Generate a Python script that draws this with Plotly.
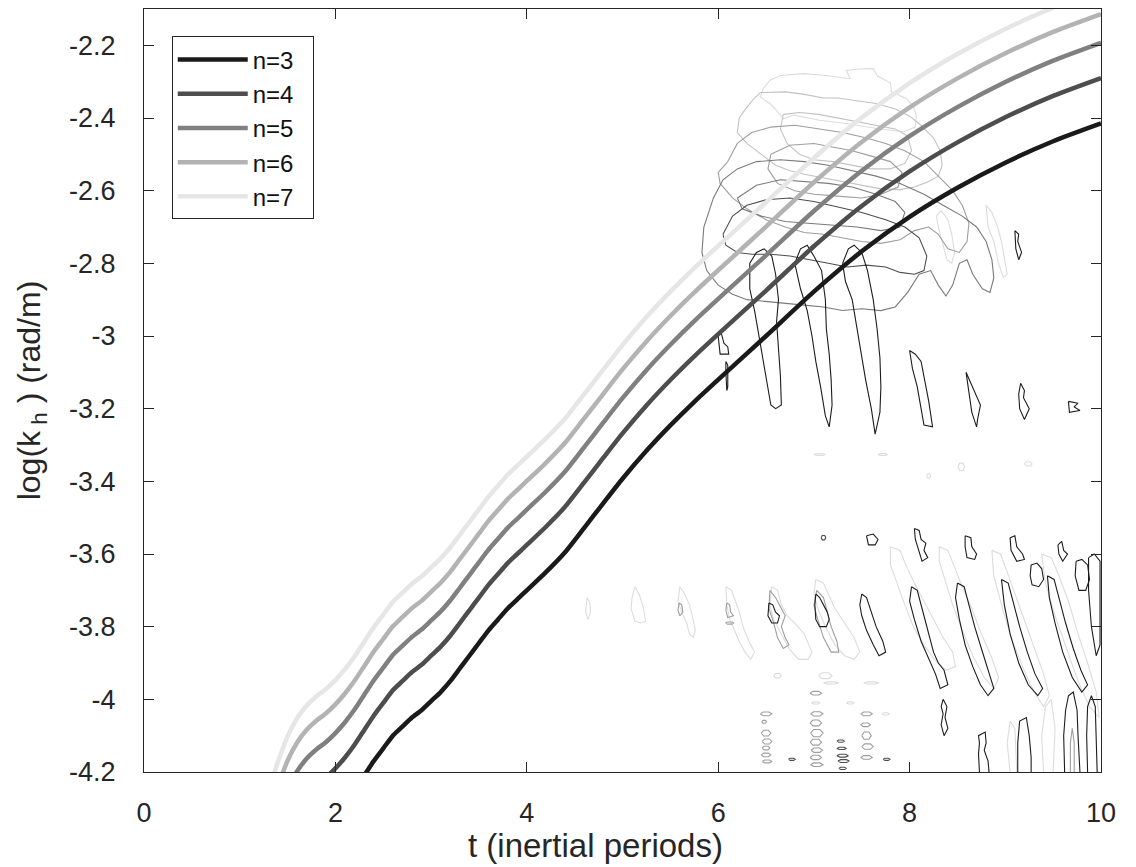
import plotly.graph_objects as go

# ---------------------------------------------------------------------------
# Ridge curves log10(k_h) for several modes n, versus time in inertial periods
# ---------------------------------------------------------------------------
T_GRID = [1.3, 1.4, 1.5, 1.6, 1.7, 1.8, 1.9, 2.0, 2.1, 2.2, 2.3, 2.4, 2.5, 2.6,
          2.7, 2.8, 2.9, 3.0, 3.1, 3.2, 3.3, 3.4, 3.5, 3.6, 3.7, 3.8, 3.9, 4.0,
          4.2, 4.4, 4.6, 4.8, 5.0, 5.25, 5.5, 5.75, 6.0, 6.5, 7.0, 7.5, 8.0,
          8.5, 9.0, 9.5, 10.0]

LOGK_N3 = [-4.620, -4.540, -4.470, -4.420, -4.385, -4.360, -4.340, -4.315, -4.285,
           -4.250, -4.210, -4.170, -4.135, -4.100, -4.075, -4.050, -4.030, -4.005,
           -3.980, -3.950, -3.915, -3.880, -3.845, -3.810, -3.780, -3.750, -3.725,
           -3.700, -3.650, -3.595, -3.528, -3.460, -3.393, -3.316, -3.246, -3.181,
           -3.120, -3.000, -2.878, -2.767, -2.672, -2.592, -2.523, -2.464, -2.415]
LOGK_N4 = [-4.495, -4.415, -4.345, -4.295, -4.260, -4.235, -4.215, -4.190, -4.160,
           -4.125, -4.085, -4.045, -4.010, -3.975, -3.950, -3.925, -3.905, -3.880,
           -3.855, -3.825, -3.790, -3.755, -3.720, -3.685, -3.655, -3.625, -3.600,
           -3.575, -3.525, -3.470, -3.403, -3.335, -3.268, -3.191, -3.121, -3.056,
           -2.995, -2.875, -2.753, -2.642, -2.547, -2.467, -2.398, -2.339, -2.290]
LOGK_N5 = [-4.398, -4.318, -4.248, -4.198, -4.163, -4.138, -4.118, -4.093, -4.063,
           -4.028, -3.988, -3.948, -3.913, -3.878, -3.853, -3.828, -3.808, -3.783,
           -3.758, -3.728, -3.693, -3.658, -3.623, -3.588, -3.558, -3.528, -3.503,
           -3.478, -3.428, -3.373, -3.306, -3.238, -3.171, -3.094, -3.024, -2.959,
           -2.898, -2.778, -2.656, -2.545, -2.450, -2.370, -2.301, -2.242, -2.193]
LOGK_N6 = [-4.319, -4.239, -4.169, -4.119, -4.084, -4.059, -4.039, -4.014, -3.984,
           -3.949, -3.909, -3.869, -3.834, -3.799, -3.774, -3.749, -3.729, -3.704,
           -3.679, -3.649, -3.614, -3.579, -3.544, -3.509, -3.479, -3.449, -3.424,
           -3.399, -3.349, -3.294, -3.227, -3.159, -3.092, -3.015, -2.945, -2.880,
           -2.819, -2.699, -2.577, -2.466, -2.371, -2.291, -2.222, -2.163, -2.114]
LOGK_N7 = [-4.252, -4.172, -4.102, -4.052, -4.017, -3.992, -3.972, -3.947, -3.917,
           -3.882, -3.842, -3.802, -3.767, -3.732, -3.707, -3.682, -3.662, -3.637,
           -3.612, -3.582, -3.547, -3.512, -3.477, -3.442, -3.412, -3.382, -3.357,
           -3.332, -3.282, -3.227, -3.160, -3.092, -3.025, -2.948, -2.878, -2.813,
           -2.752, -2.632, -2.510, -2.399, -2.304, -2.224, -2.155, -2.096, -2.047]

MODE_NAMES = ["n=3", "n=4", "n=5", "n=6", "n=7"]
MODE_COLORS = ["#1a1a1a", "#4d4d4d", "#808080", "#b3b3b3", "#e6e6e6"]

Y_TICKS = [-4.2, -4.0, -3.8, -3.6, -3.4, -3.2, -3.0, -2.8, -2.6, -2.4, -2.2]
Y_TICK_TEXT = ["-4.2", "-4", "-3.8", "-3.6", "-3.4", "-3.2", "-3", "-2.8",
               "-2.6", "-2.4", "-2.2"]
X_TICKS = [0, 2, 4, 6, 8, 10]

# ---------------------------------------------------------------------------
# Energy contours (t, log10 k_h), one list of closed outlines per contour level
# ---------------------------------------------------------------------------
SHADE_1 = "#dcdcdc"
SHADE_2 = "#c2c2c2"
SHADE_3 = "#9e9e9e"
SHADE_4 = "#7a7a7a"
SHADE_5 = "#4e4e4e"
SHADE_6 = "#1c1c1c"

LEVEL1_LOOPS = [
    [(6.47, -2.319), (6.54, -2.296), (6.65, -2.283), (6.89, -2.278), (7.13, -2.283),
     (7.38, -2.292), (7.34, -2.269), (7.48, -2.265), (7.62, -2.264), (7.66, -2.283),
     (7.80, -2.304), (7.81, -2.328), (7.97, -2.347), (8.04, -2.370), (8.07, -2.392),
     (8.06, -2.425), (7.94, -2.438), (7.66, -2.429), (7.34, -2.415), (7.06, -2.406),
     (6.79, -2.392), (6.68, -2.402), (6.61, -2.379), (6.54, -2.360), (6.44, -2.342),
     (6.47, -2.319)],
    [(8.28, -2.67), (8.33, -2.655), (8.40, -2.68), (8.44, -2.72), (8.47, -2.77),
     (8.44, -2.80), (8.39, -2.79), (8.34, -2.74), (8.30, -2.70), (8.28, -2.67)],
    [(8.80, -2.64), (8.86, -2.66), (8.92, -2.70), (8.96, -2.74), (9.00, -2.80),
     (9.02, -2.83), (8.98, -2.84), (8.93, -2.80), (8.88, -2.74), (8.82, -2.70),
     (8.80, -2.64)],
    [(4.63, -3.72), (4.66, -3.735), (4.665, -3.76), (4.64, -3.78), (4.615, -3.76),
     (4.62, -3.735), (4.63, -3.72)],
    [(5.13, -3.69), (5.18, -3.715), (5.22, -3.75), (5.24, -3.785), (5.19, -3.79),
     (5.13, -3.785), (5.09, -3.75), (5.10, -3.72), (5.13, -3.69)],
    [(5.60, -3.69), (5.65, -3.71), (5.70, -3.74), (5.73, -3.77), (5.76, -3.81),
     (5.74, -3.83), (5.70, -3.82), (5.67, -3.79), (5.62, -3.76), (5.58, -3.73),
     (5.60, -3.69)],
    [(6.08, -3.69), (6.14, -3.70), (6.18, -3.73), (6.22, -3.76), (6.26, -3.80),
     (6.32, -3.84), (6.38, -3.87), (6.34, -3.89), (6.28, -3.87), (6.22, -3.84),
     (6.17, -3.81), (6.12, -3.78), (6.09, -3.74), (6.08, -3.69)],
    [(6.56, -3.69), (6.62, -3.70), (6.66, -3.74), (6.72, -3.77), (6.80, -3.79),
     (6.90, -3.82), (6.98, -3.87), (6.94, -3.89), (6.84, -3.89), (6.74, -3.86),
     (6.66, -3.82), (6.58, -3.78), (6.54, -3.74), (6.56, -3.69)],
    [(7.02, -3.67), (7.10, -3.68), (7.15, -3.71), (7.22, -3.75), (7.32, -3.79),
     (7.42, -3.83), (7.48, -3.87), (7.42, -3.89), (7.32, -3.88), (7.22, -3.85),
     (7.12, -3.80), (7.04, -3.75), (7.00, -3.71), (7.02, -3.67)],
    [(7.80, -3.58), (7.90, -3.59), (7.96, -3.63), (8.05, -3.68), (8.15, -3.73),
     (8.25, -3.78), (8.35, -3.83), (8.45, -3.87), (8.48, -3.91), (8.38, -3.92),
     (8.26, -3.89), (8.15, -3.85), (8.04, -3.80), (7.95, -3.74), (7.87, -3.68),
     (7.80, -3.63), (7.80, -3.58)],
    [(8.31, -3.58), (8.40, -3.59), (8.46, -3.63), (8.55, -3.69), (8.65, -3.75),
     (8.75, -3.82), (8.85, -3.88), (8.93, -3.94), (8.88, -3.97), (8.78, -3.94),
     (8.66, -3.88), (8.55, -3.81), (8.45, -3.74), (8.37, -3.67), (8.31, -3.62),
     (8.31, -3.58)],
    [(8.86, -3.59), (8.95, -3.60), (9.02, -3.65), (9.10, -3.71), (9.20, -3.78),
     (9.30, -3.86), (9.40, -3.93), (9.46, -3.99), (9.40, -4.02), (9.30, -3.98),
     (9.18, -3.91), (9.06, -3.83), (8.96, -3.74), (8.88, -3.66), (8.86, -3.59)],
    [(9.38, -3.60), (9.48, -3.61), (9.56, -3.66), (9.66, -3.73), (9.76, -3.82),
     (9.86, -3.90), (9.95, -3.98), (9.98, -4.05), (9.88, -4.02), (9.76, -3.95),
     (9.64, -3.86), (9.52, -3.77), (9.42, -3.68), (9.38, -3.60)],
    [(9.40, -4.20), (9.38, -4.10), (9.42, -4.02), (9.48, -4.00), (9.52, -4.08),
     (9.50, -4.20)],
    [(9.05, -4.20), (9.02, -4.12), (9.05, -4.06), (9.10, -4.08), (9.12, -4.20)],
]

LEVEL2_LOOPS = [
    [(6.44, -2.330), (6.55, -2.330), (6.70, -2.328), (6.90, -2.335), (7.10, -2.345),
     (7.25, -2.345), (7.45, -2.353), (7.65, -2.360), (7.85, -2.375), (8.00, -2.395),
     (8.12, -2.420), (8.25, -2.455), (8.32, -2.490), (8.34, -2.530), (8.30, -2.560),
     (8.20, -2.575), (8.05, -2.590), (7.90, -2.597), (7.70, -2.595), (7.50, -2.585),
     (7.30, -2.575), (7.10, -2.565), (6.90, -2.555), (6.75, -2.545), (6.60, -2.530),
     (6.45, -2.500), (6.30, -2.470), (6.20, -2.440), (6.22, -2.400), (6.30, -2.370),
     (6.38, -2.345), (6.44, -2.330)],
    [(6.68, -2.390), (6.85, -2.385), (7.05, -2.390), (7.25, -2.400), (7.45, -2.410),
     (7.65, -2.420), (7.85, -2.430), (7.98, -2.450), (8.02, -2.490), (7.95, -2.525),
     (7.80, -2.540), (7.60, -2.540), (7.40, -2.530), (7.20, -2.520), (7.00, -2.515),
     (6.85, -2.500), (6.72, -2.470), (6.65, -2.430), (6.68, -2.390)],
]

LEVEL3_LOOPS = [
    [(6.10, -2.52), (6.20, -2.47), (6.35, -2.44), (6.55, -2.425), (6.80, -2.42),
     (7.05, -2.43), (7.30, -2.44), (7.55, -2.455), (7.75, -2.47), (7.95, -2.49),
     (8.15, -2.52), (8.30, -2.56), (8.45, -2.60), (8.55, -2.64), (8.62, -2.69),
     (8.60, -2.74), (8.52, -2.77), (8.40, -2.76), (8.30, -2.72), (8.20, -2.70),
     (8.05, -2.71), (7.90, -2.735), (7.70, -2.745), (7.50, -2.74), (7.30, -2.73),
     (7.10, -2.72), (6.90, -2.715), (6.70, -2.70), (6.50, -2.68), (6.30, -2.65),
     (6.15, -2.62), (6.02, -2.58), (6.00, -2.55), (6.10, -2.52)],
    [(6.55, -2.50), (6.75, -2.475), (7.00, -2.47), (7.20, -2.48), (7.40, -2.49),
     (7.60, -2.505), (7.80, -2.52), (7.92, -2.55), (7.88, -2.59), (7.70, -2.61),
     (7.50, -2.62), (7.25, -2.615), (7.00, -2.61), (6.80, -2.60), (6.62, -2.58),
     (6.52, -2.54), (6.55, -2.50)],
    [(5.59, -3.735), (5.62, -3.74), (5.63, -3.76), (5.60, -3.77), (5.58, -3.755),
     (5.59, -3.735)],
    [(6.09, -3.735), (6.12, -3.74), (6.13, -3.76), (6.16, -3.77), (6.10, -3.775),
     (6.08, -3.755), (6.09, -3.735)],
    [(6.54, -3.70), (6.60, -3.72), (6.66, -3.75), (6.70, -3.77), (6.66, -3.80),
     (6.70, -3.83), (6.74, -3.85), (6.68, -3.86), (6.62, -3.83), (6.58, -3.79),
     (6.53, -3.75), (6.54, -3.70)],
    [(7.03, -3.70), (7.10, -3.72), (7.14, -3.76), (7.18, -3.80), (7.24, -3.84),
     (7.26, -3.87), (7.18, -3.87), (7.10, -3.83), (7.04, -3.78), (7.00, -3.74),
     (7.03, -3.70)],
    [(9.68, -4.20), (9.68, -4.12), (9.70, -4.08), (9.72, -4.12), (9.72, -4.20)],
]

LEVEL4_LOOPS = [
    [(5.95, -2.62), (6.05, -2.57), (6.20, -2.54), (6.40, -2.52), (6.65, -2.515),
     (6.90, -2.52), (7.15, -2.53), (7.40, -2.545), (7.65, -2.56), (7.90, -2.58),
     (8.15, -2.61), (8.35, -2.64), (8.55, -2.67), (8.70, -2.70), (8.80, -2.74),
     (8.86, -2.79), (8.88, -2.84), (8.84, -2.88), (8.76, -2.87), (8.66, -2.83),
     (8.60, -2.79), (8.52, -2.80), (8.45, -2.86), (8.38, -2.89), (8.30, -2.86),
     (8.22, -2.82), (8.10, -2.83), (7.98, -2.88), (7.85, -2.92), (7.70, -2.93),
     (7.50, -2.925), (7.30, -2.93), (7.10, -2.92), (6.90, -2.915), (6.70, -2.91),
     (6.50, -2.905), (6.30, -2.90), (6.15, -2.885), (6.00, -2.86), (5.88, -2.82),
     (5.83, -2.77), (5.85, -2.70), (5.90, -2.66), (5.95, -2.62)],
    [(6.20, -2.62), (6.40, -2.585), (6.65, -2.57), (6.90, -2.575), (7.15, -2.58),
     (7.40, -2.59), (7.65, -2.61), (7.85, -2.63), (7.95, -2.66), (7.90, -2.70),
     (7.70, -2.71), (7.45, -2.70), (7.20, -2.695), (6.95, -2.69), (6.70, -2.685),
     (6.45, -2.67), (6.25, -2.65), (6.20, -2.62)],
]

LEVEL5_LOOPS = [
    [(6.05, -2.72), (6.15, -2.67), (6.30, -2.64), (6.50, -2.625), (6.75, -2.62),
     (7.00, -2.63), (7.25, -2.645), (7.50, -2.66), (7.75, -2.68), (7.95, -2.70),
     (8.10, -2.73), (8.18, -2.78), (8.15, -2.82), (8.05, -2.83), (7.90, -2.825),
     (7.75, -2.81), (7.55, -2.805), (7.35, -2.81), (7.15, -2.80), (6.95, -2.79),
     (6.75, -2.78), (6.55, -2.775), (6.35, -2.775), (6.20, -2.77), (6.08, -2.75),
     (6.05, -2.72)],
]

LEVEL6_LOOPS = [
    # fingers below the main patch
    [(6.33, -2.80), (6.40, -2.77), (6.48, -2.76), (6.56, -2.78), (6.60, -2.83),
     (6.63, -2.90), (6.61, -2.96), (6.63, -3.03), (6.65, -3.11), (6.66, -3.19),
     (6.60, -3.20), (6.55, -3.19), (6.51, -3.13), (6.46, -3.06), (6.42, -2.99),
     (6.38, -2.93), (6.33, -2.87), (6.33, -2.80)],
    [(6.80, -2.80), (6.86, -2.76), (6.93, -2.75), (7.00, -2.78), (7.08, -2.82),
     (7.12, -2.90), (7.13, -2.98), (7.16, -3.05), (7.18, -3.12), (7.19, -3.19),
     (7.16, -3.25), (7.12, -3.22), (7.07, -3.14), (7.02, -3.07), (6.98, -3.00),
     (6.93, -2.93), (6.86, -2.87), (6.80, -2.80)],
    [(7.30, -2.80), (7.36, -2.76), (7.42, -2.75), (7.50, -2.77), (7.56, -2.82),
     (7.62, -2.90), (7.66, -2.98), (7.69, -3.06), (7.70, -3.14), (7.69, -3.21),
     (7.64, -3.27), (7.60, -3.20), (7.54, -3.12), (7.49, -3.04), (7.44, -2.96),
     (7.40, -2.90), (7.33, -2.85), (7.30, -2.80)],
    [(8.00, -3.04), (8.06, -3.05), (8.12, -3.07), (8.16, -3.12), (8.20, -3.18),
     (8.24, -3.25), (8.15, -3.245), (8.12, -3.20), (8.08, -3.14), (8.03, -3.09),
     (8.00, -3.04)],
    [(8.59, -3.10), (8.64, -3.13), (8.70, -3.17), (8.74, -3.19), (8.71, -3.23),
     (8.70, -3.25), (8.65, -3.21), (8.62, -3.16), (8.59, -3.10)],
    [(9.16, -3.13), (9.20, -3.15), (9.19, -3.17), (9.25, -3.20), (9.20, -3.23),
     (9.15, -3.20), (9.14, -3.16), (9.16, -3.13)],
    [(9.66, -3.18), (9.76, -3.185), (9.72, -3.195), (9.78, -3.205), (9.67, -3.21),
     (9.66, -3.18)],
    [(6.00, -3.00), (6.03, -2.99), (6.06, -3.02), (6.10, -3.03), (6.11, -3.05),
     (6.02, -3.05), (6.00, -3.00)],
    [(6.08, -3.07), (6.10, -3.08), (6.10, -3.14), (6.09, -3.15), (6.08, -3.10),
     (6.08, -3.07)],
    [(9.10, -2.71), (9.14, -2.72), (9.13, -2.74), (9.17, -2.77), (9.14, -2.79),
     (9.11, -2.76), (9.10, -2.71)],
    # wave packets in the lower band
    [(6.53, -3.735), (6.57, -3.74), (6.60, -3.76), (6.64, -3.77), (6.62, -3.79),
     (6.56, -3.79), (6.52, -3.77), (6.53, -3.735)],
    [(7.02, -3.71), (7.06, -3.72), (7.10, -3.74), (7.14, -3.76), (7.16, -3.78),
     (7.13, -3.80), (7.06, -3.80), (7.02, -3.78), (7.01, -3.74), (7.02, -3.71)],
    [(7.50, -3.71), (7.55, -3.72), (7.60, -3.76), (7.65, -3.80), (7.72, -3.84),
     (7.75, -3.87), (7.68, -3.88), (7.62, -3.85), (7.55, -3.81), (7.50, -3.77),
     (7.48, -3.74), (7.50, -3.71)],
    [(8.02, -3.69), (8.08, -3.70), (8.13, -3.75), (8.19, -3.81), (8.25, -3.87),
     (8.30, -3.90), (8.36, -3.92), (8.40, -3.96), (8.32, -3.97), (8.27, -3.93),
     (8.20, -3.89), (8.12, -3.84), (8.05, -3.78), (8.00, -3.73), (8.02, -3.69)],
    [(8.35, -4.00), (8.39, -4.02), (8.37, -4.05), (8.40, -4.08), (8.36, -4.10),
     (8.33, -4.07), (8.35, -4.04), (8.33, -4.02), (8.35, -4.00)],
    [(8.50, -3.68), (8.57, -3.69), (8.62, -3.74), (8.68, -3.80), (8.75, -3.86),
     (8.82, -3.92), (8.88, -3.97), (8.82, -3.99), (8.74, -3.96), (8.66, -3.91),
     (8.58, -3.85), (8.52, -3.78), (8.48, -3.72), (8.50, -3.68)],
    [(8.96, -3.67), (9.03, -3.68), (9.08, -3.73), (9.15, -3.80), (9.23, -3.87),
     (9.31, -3.93), (9.39, -3.97), (9.34, -3.99), (9.24, -3.96), (9.14, -3.90),
     (9.05, -3.82), (8.99, -3.74), (8.96, -3.67)],
    [(9.44, -3.66), (9.51, -3.67), (9.56, -3.72), (9.63, -3.79), (9.71, -3.86),
     (9.79, -3.92), (9.86, -3.96), (9.80, -3.98), (9.70, -3.94), (9.60, -3.87),
     (9.52, -3.79), (9.46, -3.72), (9.44, -3.66)],
    [(9.87, -3.61), (9.93, -3.60), (9.99, -3.62), (9.99, -3.85), (9.95, -3.88),
     (9.90, -3.80), (9.87, -3.70), (9.87, -3.61)],
    [(9.27, -3.63), (9.33, -3.625), (9.38, -3.64), (9.40, -3.67), (9.35, -3.69),
     (9.28, -3.685), (9.26, -3.66), (9.27, -3.63)],
    [(9.74, -3.62), (9.80, -3.615), (9.86, -3.63), (9.88, -3.67), (9.84, -3.70),
     (9.77, -3.70), (9.73, -3.66), (9.74, -3.62)],
    [(7.55, -3.55), (7.62, -3.545), (7.67, -3.56), (7.64, -3.575), (7.57, -3.575),
     (7.55, -3.55)],
    [(8.05, -3.53), (8.10, -3.535), (8.12, -3.56), (8.17, -3.57), (8.15, -3.59),
     (8.19, -3.61), (8.13, -3.62), (8.08, -3.58), (8.06, -3.56), (8.05, -3.53)],
    [(8.58, -3.55), (8.64, -3.555), (8.65, -3.58), (8.70, -3.60), (8.68, -3.615),
     (8.60, -3.61), (8.58, -3.58), (8.58, -3.55)],
    [(9.05, -3.555), (9.10, -3.55), (9.12, -3.58), (9.18, -3.60), (9.20, -3.615),
     (9.12, -3.62), (9.06, -3.59), (9.05, -3.555)],
    [(9.55, -3.575), (9.59, -3.565), (9.61, -3.59), (9.65, -3.60), (9.60, -3.62),
     (9.56, -3.60), (9.55, -3.575)],
    [(8.73, -4.20), (8.72, -4.15), (8.73, -4.12), (8.72, -4.10), (8.79, -4.09),
     (8.80, -4.12), (8.78, -4.14), (8.82, -4.17), (8.83, -4.20)],
    [(9.13, -4.20), (9.13, -4.12), (9.15, -4.06), (9.22, -4.05), (9.25, -4.10),
     (9.27, -4.16), (9.27, -4.20)],
    [(9.62, -4.20), (9.61, -4.10), (9.63, -4.03), (9.66, -3.99), (9.71, -3.98),
     (9.75, -4.03), (9.76, -4.10), (9.78, -4.20)],
    [(9.86, -4.20), (9.85, -4.10), (9.86, -4.02), (9.90, -3.99), (9.94, -4.02),
     (9.95, -4.10), (9.96, -4.20)],
]

# small isolated patches: centre t, centre log k, extent in t, extent in log k
LEVEL1_PATCHES = [(7.06, -3.326, 0.12, 0.005), (7.72, -3.326, 0.10, 0.005),
                  (8.54, -3.360, 0.07, 0.020), (9.24, -3.352, 0.08, 0.012),
                  (8.20, -3.385, 0.04, 0.012), (7.02, -4.010, 0.09, 0.006),
                  (7.38, -4.010, 0.08, 0.006), (6.62, -3.935, 0.08, 0.012),
                  (7.12, -3.935, 0.14, 0.016), (7.60, -3.955, 0.16, 0.006),
                  (7.18, -3.955, 0.16, 0.006), (7.75, -4.040, 0.08, 0.006)]
LEVEL3_PATCHES = [(6.50, -4.040, 0.12, 0.010), (6.48, -4.062, 0.05, 0.008),
                  (6.50, -4.093, 0.10, 0.016), (6.51, -4.116, 0.10, 0.014),
                  (6.50, -4.134, 0.08, 0.010), (6.50, -4.153, 0.10, 0.010),
                  (6.51, -4.171, 0.10, 0.008), (7.02, -3.983, 0.12, 0.010),
                  (7.03, -4.040, 0.13, 0.012), (7.02, -4.065, 0.12, 0.016),
                  (7.03, -4.093, 0.13, 0.020), (7.02, -4.118, 0.12, 0.016),
                  (7.03, -4.140, 0.12, 0.012), (7.02, -4.160, 0.12, 0.012),
                  (7.03, -4.180, 0.13, 0.010), (7.55, -4.040, 0.12, 0.010),
                  (7.54, -4.070, 0.10, 0.010), (7.55, -4.100, 0.10, 0.020),
                  (7.56, -4.130, 0.12, 0.015), (7.55, -4.160, 0.12, 0.010),
                  (6.12, -3.790, 0.09, 0.006)]
LEVEL5_PATCHES = [(7.28, -4.115, 0.08, 0.006), (7.29, -4.135, 0.10, 0.006),
                  (7.30, -4.155, 0.12, 0.008), (7.31, -4.170, 0.12, 0.008),
                  (7.30, -4.190, 0.08, 0.006), (6.77, -4.165, 0.07, 0.006),
                  (7.76, -4.165, 0.07, 0.006), (7.10, -3.555, 0.05, 0.012)]


def patch_outline(ct, ck, wt, hk):
    """Hexagonal outline of a small closed contour patch."""
    return [(ct - wt / 2, ck), (ct - wt / 4, ck + hk / 2), (ct + wt / 4, ck + hk / 2),
            (ct + wt / 2, ck), (ct + wt / 4, ck - hk / 2), (ct - wt / 4, ck - hk / 2),
            (ct - wt / 2, ck)]


def join_loops(loops, patches=()):
    xs, ys = [], []
    for loop in list(loops) + [patch_outline(*p) for p in patches]:
        for t, k in loop:
            xs.append(t)
            ys.append(k)
        xs.append(None)
        ys.append(None)
    return xs, ys


FONT = "Liberation Sans, Arial, Helvetica, sans-serif"
INK = "#262626"
PAD = "\u00a0\u00a0"

fig = go.Figure()

contour_levels = [
    (LEVEL1_LOOPS, LEVEL1_PATCHES, SHADE_1),
    (LEVEL2_LOOPS, (), SHADE_2),
    (LEVEL3_LOOPS, LEVEL3_PATCHES, SHADE_3),
    (LEVEL4_LOOPS, (), SHADE_4),
    (LEVEL5_LOOPS, LEVEL5_PATCHES, SHADE_5),
    (LEVEL6_LOOPS, (), SHADE_6),
]
for loops, patches, shade in contour_levels:
    cx, cy = join_loops(loops, patches)
    fig.add_trace(go.Scatter(
        x=cx, y=cy, mode="lines", showlegend=False, hoverinfo="skip",
        line=dict(color=shade, width=1.1), connectgaps=False,
    ))

for name, color, values in zip(MODE_NAMES, MODE_COLORS,
                               [LOGK_N3, LOGK_N4, LOGK_N5, LOGK_N6, LOGK_N7]):
    fig.add_trace(go.Scatter(
        x=T_GRID, y=values, mode="lines", name=name + PAD,
        line=dict(color=color, width=4.5, shape="spline", smoothing=0.6),
    ))

fig.update_layout(
    width=1136, height=867,
    margin=dict(l=144, r=35, t=9, b=95),
    paper_bgcolor="white", plot_bgcolor="white",
    font=dict(family=FONT, color=INK, size=27),
    showlegend=True,
    legend=dict(
        x=0.029, y=0.964, xanchor="left", yanchor="top",
        bgcolor="white", bordercolor=INK, borderwidth=1,
        font=dict(size=24, family=FONT, color="#111111"),
        itemwidth=70, traceorder="normal",
    ),
    xaxis=dict(
        range=[0, 10], tickvals=X_TICKS, ticks="inside", ticklen=10, tickwidth=1,
        tickcolor=INK, showline=True, linecolor=INK, linewidth=1.2, mirror="ticks",
        showgrid=False, zeroline=False, tickfont=dict(size=27, color=INK),
        ticklabelstandoff=16,
    ),
    yaxis=dict(
        range=[-4.2, -2.1], tickvals=Y_TICKS, ticktext=Y_TICK_TEXT, ticks="inside",
        ticklen=10, tickwidth=1, tickcolor=INK, showline=True, linecolor=INK,
        linewidth=1.2, mirror="ticks", showgrid=False, zeroline=False,
        tickfont=dict(size=27, color=INK), ticklabelstandoff=22,
        title=dict(text="log(k<sub> h</sub> ) (rad/m)", font=dict(size=32, color=INK),
                   standoff=18),
    ),
    annotations=[dict(
        text="t (inertial periods)", xref="paper", yref="paper",
        x=0.472, y=-0.069, xanchor="center", yanchor="top", showarrow=False,
        font=dict(size=33, color=INK, family=FONT),
    )],
)

fig.write_html("out.html")
